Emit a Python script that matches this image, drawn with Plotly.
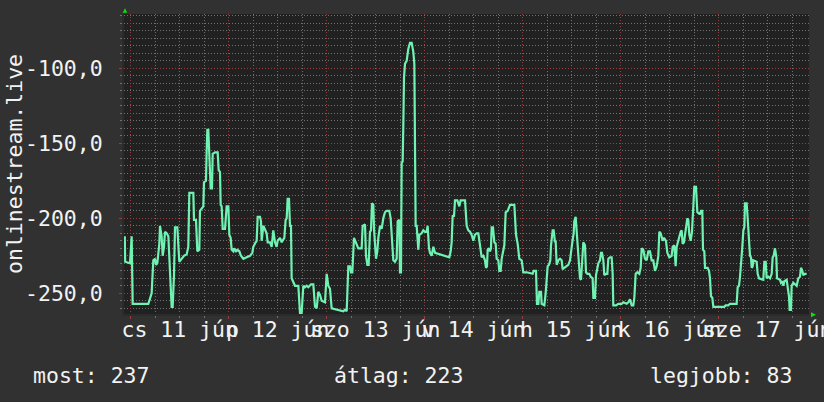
import plotly.graph_objects as go

# ---- data: hours since 11 Jun 00:00, rank of onlinestream.live (plotted negated) ----
hours_a = [-1.45, -1.35, -0.17, 0.24, 0.48, 4.32, 5.13, 5.54, 5.95, 6.20, 6.52, 7.01, 7.18, 7.58, 7.83,
           8.16, 8.40, 8.81, 9.22, 9.63, 10.03, 10.28, 10.60, 10.85, 11.42, 11.91, 12.48, 13.05, 13.71, 14.11,
           14.36, 14.93, 15.34, 15.50, 15.99, 16.32, 16.81, 16.97, 17.79, 17.95, 18.44, 18.61, 18.77, 19.01, 19.26,
           19.59, 19.91, 20.08, 20.65, 21.30, 21.55, 21.87, 22.04, 22.28, 22.53, 23.10, 23.50, 23.91, 24.16, 24.48,
           24.73, 25.14, 25.30, 25.79, 26.12, 26.61]
rank_a = [212, 229, 230, 212, 257, 257, 250, 228, 227, 231, 230, 217, 205, 212, 225,
          219, 209, 210, 212, 237, 259, 259, 238, 206, 206, 229, 227, 225, 224, 219,
          183, 183, 183, 201, 201, 222, 221, 195, 192, 176, 175, 155, 141, 141, 157,
          180, 180, 157, 156, 156, 168, 169, 191, 192, 207, 207, 192, 192, 211, 213,
          221, 222, 220, 222, 221, 222]

hours_b = [27.01, 27.59, 28.40, 29.22, 29.79, 30.03, 30.61, 30.85, 31.10, 31.67, 31.91, 32.08, 32.48, 32.89, 33.30,
           33.55, 34.12, 34.53, 34.93, 35.34, 35.75, 36.00, 36.57, 36.98, 37.63, 37.95, 38.20, 38.44, 38.77, 39.02,
           39.26, 39.42, 39.83, 40.24, 41.06, 41.46, 41.87, 42.28, 42.69, 43.10, 43.50, 44.16, 44.73, 45.14, 45.55,
           45.95, 46.36, 46.77, 47.59, 48.00, 48.40, 48.81, 49.22, 50.85, 52.08, 52.49, 52.90, 53.30, 53.71, 53.96,
           54.28, 54.69]
rank_b = [225, 227, 226, 225, 223, 219, 216, 215, 199, 199, 202, 215, 205, 207, 210,
          216, 216, 219, 208, 216, 219, 215, 213, 216, 213, 201, 200, 187, 187, 205,
          205, 240, 243, 245, 245, 263, 263, 245, 246, 245, 246, 244, 244, 259, 260,
          249, 251, 255, 256, 237, 245, 247, 260, 261, 262, 261, 262, 232, 232, 236,
          236, 213]

hours_c = [54.94, 55.34, 55.75, 56.57, 56.81, 57.38, 57.63, 57.96, 58.28, 58.61, 58.85, 59.10, 59.42, 59.59, 59.83,
           60.08, 60.40, 60.65, 61.06, 61.47, 61.87, 62.28, 62.69, 63.34, 63.67, 63.92, 64.32, 64.73, 65.14, 65.39,
           65.79, 65.96, 66.20, 66.37, 66.61, 66.77, 66.94, 67.18, 67.59, 68.00, 68.41, 68.82, 69.22, 69.47, 69.63,
           69.79, 70.04, 70.45, 70.69, 71.26, 71.67, 72.08, 72.49, 72.73, 73.06, 73.30, 73.71, 73.96, 74.12, 74.53,
           75.75, 77.39, 78.04, 78.37, 78.61, 78.86, 79.18, 79.43, 80.00, 80.49, 80.82, 81.88, 82.29, 82.69]
rank_c = [215, 218, 220, 220, 205, 204, 225, 231, 231, 209, 208, 190, 191, 207, 222,
          227, 222, 213, 205, 207, 200, 196, 195, 195, 200, 212, 228, 229, 227, 202,
          201, 236, 236, 163, 162, 138, 106, 97, 95, 87, 83, 83, 89, 97, 151,
          205, 205, 221, 211, 210, 208, 209, 209, 205, 220, 223, 225, 220, 219, 223,
          224, 225, 226, 222, 216, 198, 199, 188, 188, 192, 188, 188, 205, 208]

hours_d = [83.10, 83.51, 83.92, 84.32, 84.73, 85.14, 85.55, 85.96, 86.37, 86.77, 87.02, 87.26, 87.43, 87.75, 88.00,
           88.24, 88.41, 88.73, 89.06, 89.39, 89.63, 90.04, 90.28, 90.61, 90.86, 91.26, 91.51, 91.84, 92.33, 92.90,
           93.31, 93.96, 94.12, 94.37, 94.78, 95.18, 95.76, 96.16, 96.98, 98.45, 98.69, 99.27, 99.51, 99.84, 100.08,
           100.49, 100.65, 101.31, 101.63, 101.88, 102.12, 102.45, 102.77, 102.94, 103.35, 103.59, 103.92, 104.08,
           104.33, 104.73, 105.14, 105.55, 105.80, 106.20, 106.78, 107.18, 107.59, 107.84, 108.16, 108.49, 108.65,
           108.98, 109.23, 109.47, 109.80, 110.04, 110.29, 110.61, 110.86]
rank_d = [209, 211, 215, 211, 210, 210, 218, 226, 225, 228, 233, 232, 221, 220, 222,
          220, 206, 206, 216, 217, 227, 228, 235, 235, 227, 221, 218, 196, 195, 191,
          191, 191, 199, 211, 217, 227, 228, 236, 236, 237, 235, 235, 257, 257, 249,
          249, 257, 258, 250, 237, 232, 231, 228, 218, 208, 208, 216, 215,
          231, 228, 227, 228, 234, 233, 232, 231, 228, 221, 216, 210, 202,
          199, 208, 218, 227, 240, 241, 228, 216]

hours_e = [111.27, 111.51, 111.84, 112.33, 112.66, 113.14, 113.31, 113.72, 113.96, 114.29, 114.53, 114.94, 115.18,
           115.43, 115.76, 116.00, 116.41, 116.74, 116.98, 117.39, 117.80, 118.04, 118.20, 118.86, 119.43, 120.25,
           120.65, 121.47, 121.88, 122.29, 122.70, 123.10, 123.35, 123.68, 124.08, 124.57, 124.90, 125.15, 125.55,
           125.96, 126.37, 126.78, 127.19, 127.59, 128.00, 128.41, 128.82, 129.23, 129.47, 129.80, 130.29, 130.61,
           131.10, 131.43, 131.92, 132.49, 132.74, 133.14, 133.47, 133.72, 134.12, 134.37, 134.70, 134.94, 135.19,
           135.51, 136.00, 136.33, 136.57, 136.82, 137.15, 137.47, 137.80, 138.04, 138.45, 138.78, 139.27]
rank_e = [218, 236, 237, 237, 239, 240, 253, 253, 238, 232, 230, 228, 223,
          223, 228, 238, 237, 237, 227, 226, 226, 237, 258, 258, 257, 257,
          256, 257, 256, 254, 258, 258, 253, 237, 236, 237, 233, 220, 221,
          227, 228, 222, 222, 228, 228, 235, 232, 225, 209, 210, 215, 213,
          215, 223, 226, 225, 219, 218, 232, 219, 215, 211, 209, 208, 217,
          216, 208, 200, 201, 211, 215, 209, 192, 179, 179, 196, 197]

hours_f = [139.43, 139.68, 140.00, 140.17, 140.49, 140.66, 141.31, 141.64, 141.88, 142.13, 142.45, 142.70, 145.39,
           145.72, 146.37, 146.78, 148.41, 148.66, 148.98, 149.23, 149.47, 149.80, 150.05, 150.29, 150.45, 150.86,
           151.11, 151.43, 151.68, 151.92, 152.09, 152.33, 152.49, 153.31, 153.56, 153.88, 154.94, 155.19, 155.52,
           155.76, 156.17, 156.58, 156.99, 157.23, 157.48, 157.80, 158.13, 158.29, 159.03, 159.27, 159.60, 159.84,
           160.09, 160.66, 160.90, 161.23, 161.39, 161.72, 161.88, 162.29, 163.11, 163.51, 163.92, 164.17, 164.49,
           164.74, 164.99, 165.55]
rank_f = [197, 195, 195, 221, 222, 233, 233, 235, 240, 252, 253, 259, 259,
          258, 258, 257, 257, 246, 245, 239, 232, 219, 208, 206, 190, 190,
          200, 212, 225, 226, 233, 232, 228, 229, 237, 240, 241, 229, 229,
          240, 239, 240, 237, 226, 225, 220, 226, 240, 241, 243, 242, 245,
          242, 241, 246, 252, 261, 261, 245, 243, 245, 240, 239, 233, 235,
          238, 237, 237]

day_label_hours = [12, 36, 60, 84, 108, 132, 156]
day_labels = ["cs 11 jún", "p 12 jún", "szo 13 jún", "v 14 jún", "h 15 jún", "k 16 jún", "sze 17 jún"]
midnight_hours = [0, 24, 48, 72, 96, 120, 144]
y_ticks = [-250, -200, -150, -100]
y_tick_labels = ["-250,0", "-200,0", "-150,0", "-100,0"]
series_name = "onlinestream.live"
stat_now, stat_avg, stat_best = 237, 223, 83

hours = hours_a + hours_b + hours_c + hours_d + hours_e + hours_f
rank = rank_a + rank_b + rank_c + rank_d + rank_e + rank_f
value = [-r for r in rank]

FONT = "DejaVu Sans Mono"
FS = 21.5
TXT = "#f2f2f2"
MINOR = "rgb(112,112,112)"
MAJOR = "rgb(150,62,62)"
DASH = "1px,2px"
XR = [-1.64, 166.13]

fig = go.Figure()
fig.add_trace(go.Scatter(x=hours, y=value, mode="lines", line=dict(color="#6ff2b2", width=2.2),
                         hoverinfo="skip", showlegend=False))
fig.add_trace(go.Scatter(x=hours, y=value, xaxis="x2", mode="lines", line=dict(width=0),
                         opacity=0, hoverinfo="skip", showlegend=False))

fig.update_layout(
    width=824, height=402,
    margin=dict(l=124, r=15, t=14, b=88, autoexpand=False),
    paper_bgcolor="#313131", plot_bgcolor="#212121",
    font=dict(family=FONT, size=FS, color=TXT),
    xaxis=dict(range=XR, tickmode="array", tickvals=midnight_hours, showticklabels=False,
               showgrid=True, gridcolor=MAJOR, griddash=DASH, gridwidth=1, automargin=False,
               ticks="outside", ticklen=3, tickcolor=MAJOR,
               minor=dict(tickmode="linear", tick0=0, dtick=6, showgrid=True, gridcolor=MINOR,
                          griddash=DASH, gridwidth=1, ticks="outside", ticklen=2, tickcolor=MINOR),
               zeroline=False, showline=True, linecolor="#2b2b2b", linewidth=2),
    xaxis2=dict(range=XR, overlaying="x", side="bottom", anchor="y", tickmode="array",
                tickvals=day_label_hours, ticktext=day_labels, tickangle=0, showgrid=False,
                zeroline=False, ticks="", ticklabeloverflow="allow", automargin=False,
                tickfont=dict(family=FONT, size=FS, color=TXT)),
    yaxis=dict(range=[-263.8, -63.8], tickmode="array", tickvals=y_ticks, ticktext=y_tick_labels,
               showgrid=True, gridcolor=MAJOR, griddash=DASH, gridwidth=1, automargin=False,
               ticks="outside", ticklen=3, tickcolor=MAJOR, ticklabelstandoff=12,
               minor=dict(tickmode="linear", tick0=0, dtick=5, showgrid=True, gridcolor=MINOR,
                          griddash=DASH, gridwidth=1, ticks="outside", ticklen=2, tickcolor=MINOR),
               zeroline=False, showline=True, linecolor="#2b2b2b", linewidth=2,
               tickfont=dict(family=FONT, size=FS, color=TXT)),
    shapes=[
        dict(type="path", xref="paper", yref="paper",
             path="M -0.0019,1.0043 L 0.0048,1.0043 L 0.00146,1.019 Z",
             fillcolor="#11dd11", line=dict(width=0)),
        dict(type="path", xref="paper", yref="paper",
             path="M 1.0029,0.0057 L 1.0029,-0.011 L 1.0102,-0.0027 Z",
             fillcolor="#11dd11", line=dict(width=0)),
    ],
    annotations=[
        dict(text=series_name, xref="paper", yref="paper", x=0, y=0.5, xshift=-110,
             textangle=-90, showarrow=False, xanchor="center", yanchor="middle",
             font=dict(family=FONT, size=FS, color=TXT)),
        dict(text=f"most: {stat_now}", xref="paper", yref="paper", x=0, y=0, xshift=-93, yshift=-61,
             showarrow=False, xanchor="left", yanchor="middle", font=dict(family=FONT, size=FS, color=TXT)),
        dict(text=f"átlag: {stat_avg}", xref="paper", yref="paper", x=0, y=0, xshift=208, yshift=-61,
             showarrow=False, xanchor="left", yanchor="middle", font=dict(family=FONT, size=FS, color=TXT)),
        dict(text=f"legjobb: {stat_best}", xref="paper", yref="paper", x=0, y=0, xshift=524, yshift=-61,
             showarrow=False, xanchor="left", yanchor="middle", font=dict(family=FONT, size=FS, color=TXT)),
    ],
)

fig.write_html("out.html")
